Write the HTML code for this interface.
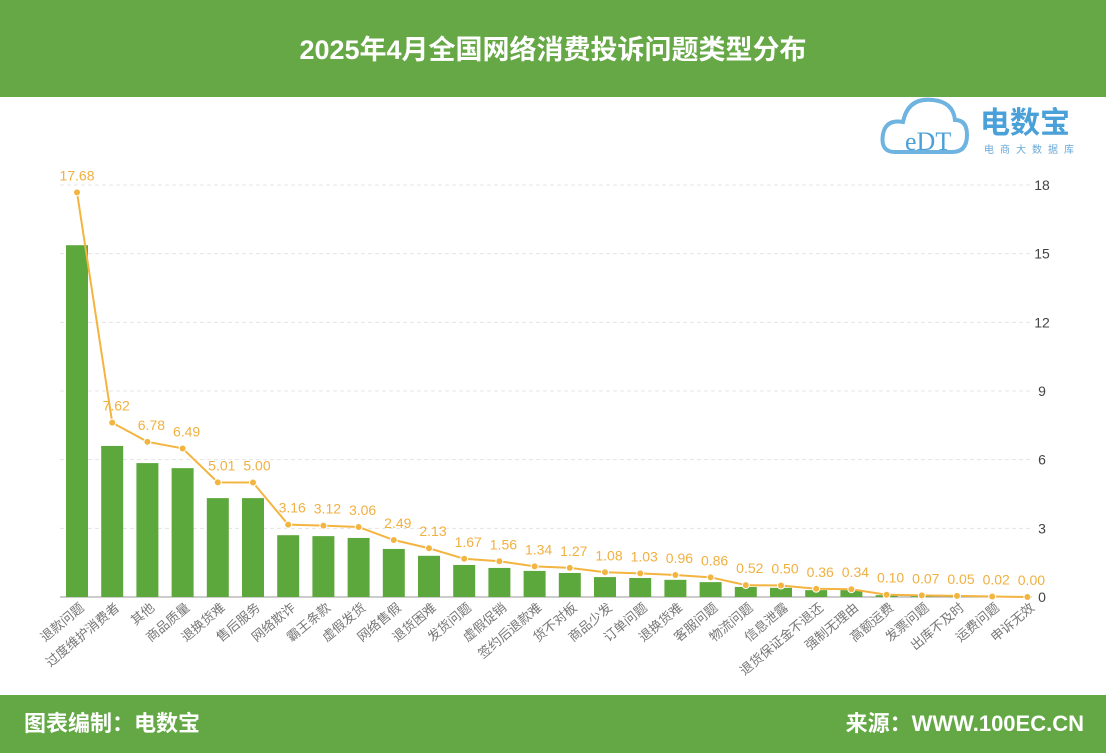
<!DOCTYPE html>
<html><head><meta charset="utf-8"><style>
body{margin:0;width:1106px;height:756px;background:#fff;overflow:hidden;font-family:"Liberation Sans","Noto Sans CJK SC",sans-serif}
#hdr{position:absolute;left:0;top:0;width:1106px;height:97px;background:#66a746;color:#fff;font-weight:bold;font-size:27px;text-align:center;line-height:100px}
#ftr{position:absolute;left:0;top:695px;width:1106px;height:58px;background:#63a844;color:#fff;font-weight:bold;font-size:22px;line-height:58px}
</style></head><body>
<div id="hdr">2025年4月全国网络消费投诉问题类型分布</div>
<svg id="chart" width="1106" height="756" style="position:absolute;left:0;top:0"></svg>
<div id="ftr"><span style="position:absolute;left:24px">图表编制：电数宝</span><span style="position:absolute;right:22px">来源：WWW.100EC.CN</span></div>
<script>
const categories=["退款问题","过度维护消费者","其他","商品质量","退换货难","售后服务","网络欺诈","霸王条款","虚假发货","网络售假","退货困难","发货问题","虚假促销","签约后退款难","货不对板","商品少发","订单问题","退换货难","客服问题","物流问题","信息泄露","退货保证金不退还","强制无理由","高额运费","发票问题","出库不及时","运费问题","申诉无效"];
const barValues=[15.37,6.6,5.85,5.63,4.32,4.32,2.7,2.66,2.58,2.1,1.8,1.4,1.27,1.14,1.05,0.87,0.83,0.75,0.65,0.44,0.4,0.3,0.3,0.08,0.06,0.04,0.02,0];
const lineValues=[17.68,7.62,6.78,6.49,5.01,5.00,3.16,3.12,3.06,2.49,2.13,1.67,1.56,1.34,1.27,1.08,1.03,0.96,0.86,0.52,0.50,0.36,0.34,0.10,0.07,0.05,0.02,0.00];
const lineLabels=["17.68","7.62","6.78","6.49","5.01","5.00","3.16","3.12","3.06","2.49","2.13","1.67","1.56","1.34","1.27","1.08","1.03","0.96","0.86","0.52","0.50","0.36","0.34","0.10","0.07","0.05","0.02","0.00"];
const yTicks=[0,3,6,9,12,15,18];
const svg=document.getElementById('chart'),NS='http://www.w3.org/2000/svg';
function mk(t,a,p){const e=document.createElementNS(NS,t);for(const k in a)e.setAttribute(k,a[k]);(p||svg).appendChild(e);return e;}
const y0=597,y18=185,x0=77,step=35.2;
const Y=v=>y0-(v/18)*(y0-y18), X=i=>x0+i*step;
yTicks.forEach(t=>{
 if(t>0){const g=mk('line',{x1:60,x2:1030,y1:Y(t),y2:Y(t),stroke:'#e4e4e4','stroke-dasharray':'4,3'});
 
 }
 const tx=mk('text',{x:1042,y:Y(t)+5,'font-size':14,fill:'#444','text-anchor':'middle'});tx.textContent=t;
 
 
});
const ax=mk('line',{x1:60,x2:1032,y1:y0,y2:y0,stroke:'#999'});


barValues.forEach((v,i)=>{
 const r=mk('rect',{x:X(i)-11,y:Y(v),width:22,height:y0-Y(v),fill:'#5ca83c'});
 
 
});
const pts=lineValues.map((v,i)=>X(i)+','+Y(v)).join(' ');
const pl=mk('polyline',{points:pts,fill:'none',stroke:'#f3b440','stroke-width':2});


lineValues.forEach((v,i)=>{
 const c=mk('circle',{cx:X(i),cy:Y(v),r:3.5,fill:'#f3b440',stroke:'#fff','stroke-width':1});
 
 
 const t=mk('text',{x:X(i)+(i==0?0:4),y:Y(v)-12,'font-size':14,fill:'#f0b040','text-anchor':'middle'});t.textContent=lineLabels[i];
 
 
});
categories.forEach((c,i)=>{
 const t=mk('text',{transform:`translate(${X(i)+8},${y0+12}) rotate(-40)`,'font-size':13,fill:'#777','text-anchor':'end'});t.textContent=c;
 
 
});
const logo=mk('g',{});


mk('path',{d:'M895 152 q-15 0 -12 -18 q3 -15 20 -12 q5 -25 30 -22 q20 2 22 20 q12 0 12 15 q0 17 -15 17 z',fill:'none',stroke:'#6fb3e0','stroke-width':4},logo);
const lt=mk('text',{x:905,y:150,'font-size':26,fill:'#4aa0d8','font-family':'Liberation Serif'},logo);lt.textContent='eDT';
const lt2=mk('text',{x:980,y:133,'font-size':30,fill:'#4aa0d8','font-weight':'bold'},logo);lt2.textContent='电数宝';
const lt3=mk('text',{x:984,y:153,'font-size':10,fill:'#6aa9d8','letter-spacing':'6'},logo);lt3.textContent='电商大数据库';
</script>
</body></html>
